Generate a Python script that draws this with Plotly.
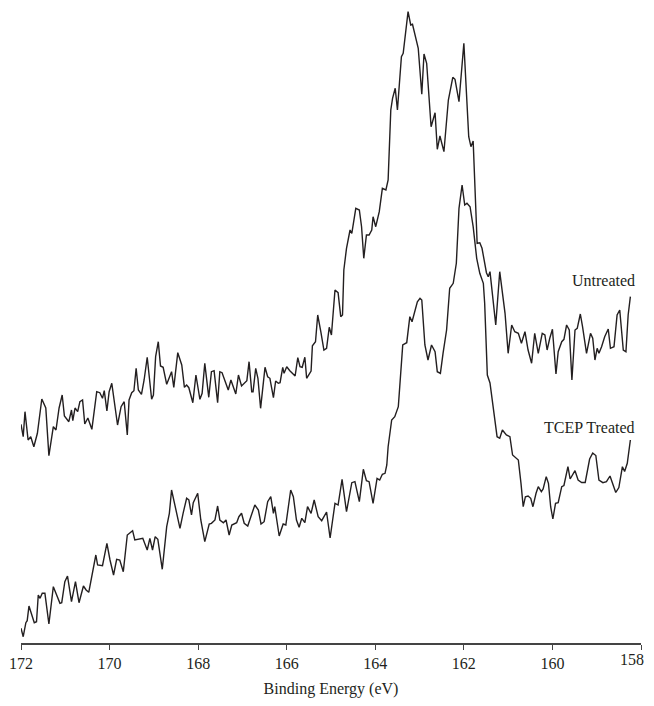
import plotly.graph_objects as go

# Binding energy (eV) and intensity (a.u.)
untreated_be = [172.00, 171.95, 171.91, 171.84, 171.78, 171.71, 171.63, 171.53, 171.44, 171.37,
                171.27, 171.21, 171.14, 171.07, 171.02, 170.92, 170.86, 170.83, 170.78, 170.72,
                170.67, 170.61, 170.56, 170.49, 170.40, 170.29, 170.22, 170.16, 170.12, 170.06,
                170.01, 169.95, 169.82, 169.74, 169.67, 169.60, 169.56, 169.50, 169.45, 169.40,
                169.35, 169.28, 169.22, 169.15, 169.05, 169.01, 168.96, 168.90, 168.85, 168.79,
                168.71, 168.64, 168.60, 168.55, 168.46, 168.37, 168.31, 168.26, 168.21, 168.12,
                168.05, 167.96, 167.91, 167.85, 167.76, 167.70, 167.64, 167.56, 167.51, 167.46,
                167.37, 167.32, 167.26, 167.15, 167.09, 167.02, 166.90, 166.85, 166.79, 166.76,
                166.70, 166.65, 166.59, 166.49, 166.43, 166.38, 166.30, 166.25, 166.19, 166.15,
                166.09, 166.06, 166.00, 165.93, 165.81, 165.75, 165.70, 165.65, 165.59, 165.55,
                165.45, 165.42, 165.35, 165.30, 165.23, 165.16, 165.10, 165.04, 164.99, 164.91,
                164.84, 164.78, 164.74, 164.71, 164.65, 164.57, 164.53, 164.44, 164.36, 164.31,
                164.26, 164.20, 164.14, 164.08, 164.05, 163.99, 163.91, 163.84, 163.76, 163.71,
                163.65, 163.61, 163.55, 163.50, 163.41, 163.37, 163.26, 163.20, 163.16, 163.03,
                162.95, 162.90, 162.84, 162.74, 162.65, 162.60, 162.54, 162.45, 162.35, 162.25,
                162.20, 162.11, 162.00, 161.89, 161.84, 161.79, 161.70, 161.64, 161.59, 161.49,
                161.45, 161.41, 161.28, 161.19, 161.07, 161.00, 160.92, 160.85, 160.77, 160.70,
                160.62, 160.55, 160.47, 160.40, 160.32, 160.23, 160.17, 160.12, 160.06, 160.00,
                159.92, 159.87, 159.79, 159.74, 159.68, 159.62, 159.56, 159.49, 159.44, 159.37,
                159.32, 159.23, 159.14, 159.09, 159.04, 158.99, 158.95, 158.89, 158.82, 158.74,
                158.69, 158.61, 158.54, 158.48, 158.40, 158.34, 158.29, 158.24]
untreated_int = [218.7, 206.3, 231.3, 203.0, 206.3, 196.3, 209.7, 244.0, 235.0, 187.3,
                 216.3, 213.0, 235.0, 248.0, 227.0, 221.3, 233.0, 222.3, 235.0, 231.3,
                 241.3, 243.0, 219.0, 225.0, 213.7, 251.3, 250.3, 244.7, 252.3, 232.0,
                 251.3, 259.7, 218.0, 236.3, 241.3, 208.0, 243.0, 250.3, 252.3, 274.7,
                 253.0, 248.7, 263.0, 285.7, 243.7, 248.0, 286.3, 301.3, 277.0, 275.7,
                 258.7, 266.3, 271.3, 255.7, 290.3, 278.0, 255.7, 258.0, 255.3, 240.3,
                 268.0, 243.7, 249.7, 279.7, 245.7, 271.3, 272.3, 240.3, 271.3, 270.3,
                 259.7, 253.0, 263.0, 249.0, 268.0, 257.0, 262.3, 281.3, 251.3, 251.3,
                 274.7, 264.7, 234.7, 275.7, 266.3, 264.7, 245.3, 262.0, 259.7, 260.3,
                 275.7, 269.7, 276.3, 272.3, 267.0, 285.3, 276.3, 275.7, 285.7, 264.7,
                 272.0, 297.3, 301.3, 328.0, 311.3, 293.0, 294.7, 315.7, 308.0, 353.0,
                 350.3, 326.3, 328.0, 373.0, 394.7, 413.0, 409.7, 434.7, 433.0, 416.3,
                 384.7, 408.0, 408.0, 413.0, 426.3, 416.3, 431.3, 454.7, 453.0, 463.0,
                 533.0, 544.7, 554.7, 533.0, 586.3, 589.7, 631.3, 618.0, 618.7, 594.7,
                 548.7, 589.0, 579.7, 516.3, 530.3, 493.7, 507.0, 491.3, 543.0, 565.7,
                 563.7, 541.3, 599.7, 506.3, 496.3, 502.0, 399.7, 400.3, 394.7, 370.3,
                 366.3, 371.3, 318.0, 371.3, 329.7, 289.7, 318.0, 311.3, 309.7, 299.7,
                 311.3, 293.0, 279.7, 309.7, 289.7, 309.7, 308.0, 293.0, 304.7, 313.7,
                 269.0, 291.3, 301.3, 303.7, 318.0, 313.0, 263.0, 313.0, 314.7, 329.0,
                 316.3, 289.7, 309.7, 304.7, 283.0, 294.7, 289.7, 296.3, 306.3, 314.0,
                 294.7, 296.3, 328.0, 333.0, 293.0, 291.3, 328.0, 346.3]

treated_be = [172.00, 171.95, 171.89, 171.86, 171.82, 171.76, 171.70, 171.65, 171.61, 171.57,
              171.52, 171.46, 171.37, 171.27, 171.19, 171.12, 171.08, 171.01, 170.95, 170.86,
              170.77, 170.69, 170.59, 170.53, 170.47, 170.39, 170.31, 170.27, 170.16, 170.06,
              169.99, 169.91, 169.84, 169.77, 169.69, 169.60, 169.48, 169.43, 169.35, 169.25,
              169.15, 169.09, 169.03, 168.97, 168.91, 168.81, 168.71, 168.65, 168.60, 168.52,
              168.41, 168.34, 168.26, 168.21, 168.15, 168.11, 168.01, 167.94, 167.85, 167.75,
              167.70, 167.62, 167.56, 167.51, 167.43, 167.37, 167.30, 167.24, 167.13, 167.08,
              167.02, 166.96, 166.88, 166.81, 166.72, 166.64, 166.58, 166.51, 166.43, 166.36,
              166.30, 166.27, 166.17, 166.08, 166.02, 165.91, 165.85, 165.78, 165.72, 165.66,
              165.59, 165.53, 165.45, 165.38, 165.29, 165.21, 165.10, 165.02, 164.91, 164.84,
              164.75, 164.65, 164.53, 164.46, 164.36, 164.27, 164.20, 164.14, 164.05, 163.96,
              163.90, 163.84, 163.78, 163.74, 163.71, 163.63, 163.56, 163.48, 163.44, 163.38,
              163.29, 163.22, 163.17, 163.11, 163.05, 162.99, 162.95, 162.88, 162.81, 162.73,
              162.65, 162.60, 162.53, 162.47, 162.39, 162.32, 162.24, 162.17, 162.11, 162.04,
              161.98, 161.93, 161.86, 161.79, 161.71, 161.64, 161.56, 161.53, 161.47, 161.41,
              161.34, 161.25, 161.19, 161.13, 161.04, 160.96, 160.90, 160.85, 160.77, 160.71,
              160.66, 160.61, 160.55, 160.49, 160.44, 160.37, 160.32, 160.25, 160.21, 160.14,
              160.09, 160.04, 159.99, 159.93, 159.87, 159.79, 159.74, 159.65, 159.60, 159.49,
              159.42, 159.34, 159.26, 159.16, 159.09, 159.02, 158.95, 158.86, 158.78, 158.70,
              158.64, 158.57, 158.50, 158.42, 158.37, 158.31, 158.24]
treated_int = [14.7, 6.3, 20.3, 22.3, 37.0, 28.0, 20.3, 21.3, 48.0, 44.7,
               49.7, 49.7, 19.0, 56.3, 48.0, 39.7, 40.3, 61.3, 67.0, 41.3,
               61.3, 40.3, 57.0, 53.0, 50.7, 69.7, 88.0, 78.0, 77.3, 99.7,
               83.0, 68.0, 83.7, 83.0, 71.3, 108.0, 112.3, 103.0, 103.7, 104.7,
               93.0, 104.7, 93.0, 106.3, 103.7, 73.7, 116.3, 129.7, 153.0, 136.3,
               114.7, 129.7, 144.7, 143.0, 128.0, 140.3, 149.7, 123.0, 101.3, 119.0,
               119.7, 123.0, 137.0, 123.0, 120.3, 123.0, 108.0, 118.0, 120.3, 126.3,
               129.7, 119.7, 117.0, 126.3, 138.0, 133.0, 119.0, 121.3, 141.3, 146.3,
               129.7, 136.3, 107.0, 119.0, 118.0, 153.0, 146.3, 123.0, 115.7, 124.7,
               120.3, 136.3, 129.7, 143.0, 126.3, 122.3, 131.0, 105.0, 139.7, 138.0,
               163.7, 131.3, 160.3, 161.3, 141.3, 173.7, 162.3, 161.3, 139.7, 164.7,
               163.0, 168.7, 169.7, 178.0, 196.3, 223.0, 226.3, 236.3, 263.0, 298.0,
               300.3, 326.3, 321.3, 331.3, 341.3, 344.7, 343.0, 298.0, 283.0, 298.0,
               291.3, 271.3, 269.7, 289.7, 313.0, 354.7, 359.7, 379.7, 434.7, 458.0,
               438.0, 439.7, 436.3, 416.3, 384.7, 369.7, 359.7, 339.7, 268.0, 260.0,
               238.0, 206.3, 204.7, 213.0, 208.0, 206.3, 188.0, 186.3, 183.0, 159.7,
               136.3, 146.3, 147.0, 144.7, 136.3, 149.7, 156.3, 151.3, 154.0, 166.3,
               159.7, 136.3, 124.0, 139.7, 140.3, 156.3, 157.5, 176.3, 164.0, 172.3,
               163.0, 160.5, 160.5, 184.0, 190.0, 187.5, 163.0, 160.3, 161.3, 167.0,
               158.5, 150.5, 155.5, 176.3, 171.5, 179.7, 203.0]

tick_vals = [172, 170, 168, 166, 164, 162, 160, 158]
tick_text = ["172", "170", "168", "166", "164", "162", "160", ""]  # last label drawn below
edge_label = "158"
labels = ["Untreated", "TCEP Treated"]
label_pos = [(158.1, 363), (158.1, 216)]

LINE = "#231f20"
FONT = "Liberation Serif, Times New Roman, serif"

fig = go.Figure()
fig.add_trace(go.Scatter(x=untreated_be, y=untreated_int, mode="lines",
                         line=dict(color=LINE, width=1.4), name=labels[0]))
fig.add_trace(go.Scatter(x=treated_be, y=treated_int, mode="lines",
                         line=dict(color=LINE, width=1.4), name=labels[1]))

for txt, (lx, ly) in zip(labels, label_pos):
    fig.add_annotation(x=lx, y=ly, xref="x", yref="y", text=txt, showarrow=False,
                       xanchor="right", yanchor="middle",
                       font=dict(family=FONT, size=16, color="#231f20"))

# right-most tick label, kept inside the visible page area
fig.add_annotation(x=1, y=0, xref="paper", yref="paper", text=edge_label,
                   showarrow=False, xanchor="right", yanchor="top",
                   xshift=5, yshift=-6,
                   font=dict(family=FONT, size=16, color="#231f20"))

# The page body adds an 8 px margin; keep the page within the 654x706 window.
fig.update_layout(
    width=646, height=690,
    margin=dict(l=13, r=13, t=0, b=55),
    paper_bgcolor="white", plot_bgcolor="white",
    showlegend=False,
    font=dict(family=FONT, size=16, color="#231f20"),
    xaxis=dict(range=[172, 158], tickvals=tick_vals, ticktext=tick_text,
               ticks="outside", ticklen=5,
               tickwidth=1.3, tickcolor="#444", showline=True, linecolor="#444",
               linewidth=1.5, showgrid=False, zeroline=False,
               tickfont=dict(family=FONT, size=16),
               title=dict(text="Binding Energy (eV)", standoff=12,
                          font=dict(family=FONT, size=16))),
    yaxis=dict(range=[0, 635], visible=False),
)

fig.write_html("out.html")
